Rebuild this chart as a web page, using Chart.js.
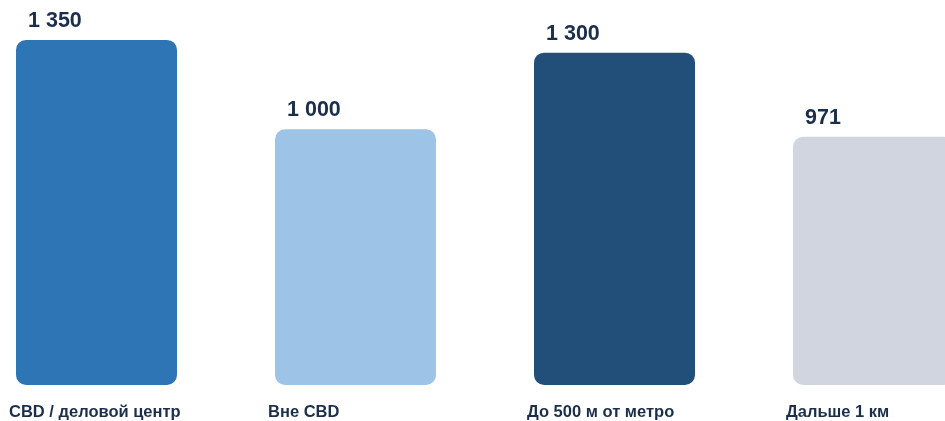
<!DOCTYPE html>
<html>
<head>
<meta charset="utf-8">
<script src="https://cdn.jsdelivr.net/npm/chart.js@4"></script>
<style>
  html, body { margin: 0; padding: 0; background: #fff; overflow: hidden; width: 945px; height: 421px; }
  #wrap { position: absolute; left: -33px; top: 0; width: 1036px; height: 421px; }
</style>
</head>
<body>
<div id="wrap"><canvas id="rentChart"></canvas></div>
<script>
const categories = ["CBD / деловой центр", "Вне CBD", "До 500 м от метро", "Дальше 1 км"];
const values = [1350, 1000, 1300, 971];
const barColors = ["#2e75b6", "#9dc3e6", "#224f79", "#d1d5df"];

const textColor = "#1b2f4d";

function formatValue(v) {
  return String(v).replace(/\B(?=(\d{3})+(?!\d))/g, " ");
}

const barLabels = {
  id: "barLabels",
  afterDatasetsDraw(chart) {
    const ctx = chart.ctx;
    const meta = chart.getDatasetMeta(0);
    ctx.save();
    ctx.fillStyle = textColor;
    ctx.textAlign = "left";
    ctx.textBaseline = "middle";
    meta.data.forEach((bar, i) => {
      const left = bar.x - bar.width / 2;
      ctx.font = "bold 21.5px 'Liberation Sans', Arial, sans-serif";
      ctx.fillText(formatValue(values[i]), left + 12, bar.y - 19);
      ctx.font = "bold 16.5px 'Liberation Sans', Arial, sans-serif";
      ctx.fillText(categories[i], left - 7, 412.5);
    });
    ctx.restore();
  },
};

new Chart(document.getElementById("rentChart"), {
  type: "bar",
  data: {
    labels: categories,
    datasets: [
      {
        data: values,
        backgroundColor: barColors,
        borderRadius: 10,
        borderSkipped: false,
        barPercentage: 0.6216,
        categoryPercentage: 1,
      },
    ],
  },
  options: {
    responsive: true,
    maintainAspectRatio: false,
    animation: false,
    layout: { padding: { top: 0, bottom: 36, left: 0, right: 0 } },
    plugins: { legend: { display: false }, tooltip: { enabled: false } },
    scales: {
      x: { display: false },
      y: { display: false, min: 0, max: 1506 },
    },
  },
  plugins: [barLabels],
});
</script>
</body>
</html>
